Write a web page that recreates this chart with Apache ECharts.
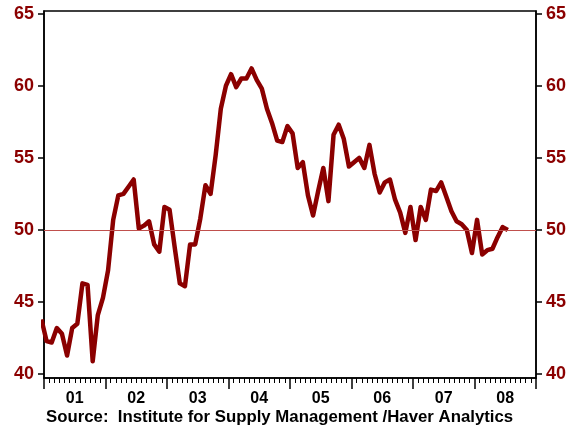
<!DOCTYPE html>
<html>
<head>
<meta charset="utf-8">
<script src="https://cdn.jsdelivr.net/npm/echarts@6/dist/echarts.min.js"></script>
<style>
html,body{margin:0;padding:0;background:#fff;}
#c{width:574px;height:427px;}
</style>
</head>
<body>
<div id="c"></div>
<script>
// Monthly ISM index, Dec 2000 .. Jul 2008
var firstMonth = {year: 2000, month: 12};
var ismValues = [
  43.8,
  42.3, 42.2, 43.2, 42.8, 41.3, 43.2, 43.5, 46.3, 46.2, 40.9, 44.1, 45.3,
  47.2, 50.7, 52.4, 52.5, 53.0, 53.5, 50.1, 50.3, 50.6, 49.0, 48.5, 51.6,
  51.4, 48.8, 46.3, 46.1, 49.0, 49.0, 50.8, 53.1, 52.5, 55.2, 58.4, 60.0,
  60.8, 59.9, 60.5, 60.5, 61.2, 60.4, 59.8, 58.4, 57.4, 56.2, 56.1, 57.2,
  56.7, 54.3, 54.7, 52.4, 51.0, 52.7, 54.3, 52.0, 56.6, 57.3, 56.3, 54.4,
  54.7, 55.0, 54.3, 55.9, 53.9, 52.6, 53.3, 53.5, 52.1, 51.2, 49.8, 51.6,
  49.3, 51.6, 50.7, 52.8, 52.7, 53.3, 52.3, 51.3, 50.6, 50.4, 50.0, 48.4,
  50.7, 48.3, 48.6, 48.7, 49.5, 50.2, 50.0
];
var yearLabels = ['01','02','03','04','05','06','07','08'];
var yTicks = [40, 45, 50, 55, 60, 65];
var refLevel = 50;
var sourceText = 'Source:  Institute for Supply Management /Haver Analytics';

var seriesData = ismValues.map(function (v, i) {
  var m = firstMonth.month - 1 + i;
  return [firstMonth.year + (m + 0.5) / 12, v];
});

var red = '#8b0000';
var yLabelStyle = {color: red, fontWeight: 'bold', fontSize: 18, fontFamily: 'Liberation Sans, Arial, sans-serif'};

var chart = echarts.init(document.getElementById('c'), null, {renderer: 'canvas'});
chart.setOption({
  animation: false,
  backgroundColor: '#fff',
  grid: {left: 44, right: 38, top: 11, bottom: 49, show: true, borderColor: '#000', borderWidth: 1.5, backgroundColor: 'transparent'},
  title: {
    text: sourceText, left: 46, top: 409, padding: 0,
    textStyle: {fontSize: 16.8, fontWeight: 'bold', color: '#000', fontFamily: 'Liberation Sans Narrow, Arial Narrow, Liberation Sans, sans-serif'}
  },
  xAxis: [{
    type: 'value', min: 2001, max: 2009, interval: 1,
    axisLine: {show: true, lineStyle: {color: '#000', width: 1.5}},
    axisTick: {show: true, length: 11, lineStyle: {color: '#000', width: 1.5}},
    minorTick: {show: true, splitNumber: 12, length: 5, lineStyle: {color: '#000', width: 1}},
    axisLabel: {show: false},
    splitLine: {show: false}
  }, {
    type: 'category', data: yearLabels, position: 'bottom', boundaryGap: true,
    axisLine: {show: false}, axisTick: {show: false}, splitLine: {show: false},
    axisLabel: {show: true, margin: 13, color: '#000', fontWeight: 'bold', fontSize: 16, fontFamily: 'Liberation Sans, Arial, sans-serif'}
  }],
  yAxis: [{
    type: 'value', min: 39.74, max: 65.18, position: 'left',
    axisLine: {show: true, lineStyle: {color: '#000', width: 1.5}},
    axisTick: {show: true, length: 6, customValues: yTicks, lineStyle: {color: '#000', width: 1.5}},
    axisLabel: Object.assign({customValues: yTicks, margin: 10}, yLabelStyle),
    splitLine: {show: false}
  }, {
    type: 'value', min: 39.74, max: 65.18, position: 'right',
    axisLine: {show: true, lineStyle: {color: '#000', width: 1.5}},
    axisTick: {show: true, length: 6, customValues: yTicks, lineStyle: {color: '#000', width: 1.5}},
    axisLabel: Object.assign({customValues: yTicks, margin: 10}, yLabelStyle),
    splitLine: {show: false}
  }],
  series: [{
    type: 'line', xAxisIndex: 0, yAxisIndex: 0,
    data: seriesData, showSymbol: false, symbol: 'none', clip: true,
    lineStyle: {color: red, width: 4.5, join: 'round'},
    markLine: {
      silent: true, symbol: 'none', label: {show: false},
      lineStyle: {color: '#c0504d', width: 1.2, type: 'solid'},
      data: [{yAxis: refLevel}]
    },
    z: 3
  }]
});
</script>
</body>
</html>
